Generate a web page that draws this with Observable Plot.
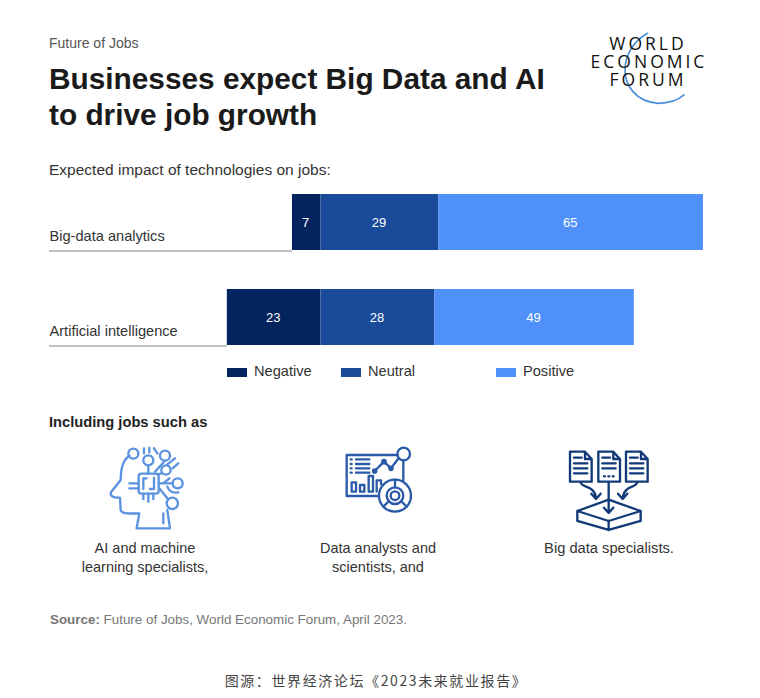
<!DOCTYPE html>
<html><head><meta charset="utf-8">
<script src="https://cdn.jsdelivr.net/npm/d3@7"></script>
<script src="https://cdn.jsdelivr.net/npm/@observablehq/plot@0.6"></script>
<style>
html,body{margin:0;padding:0;background:#fff}
#page{position:relative;width:760px;height:698px;overflow:hidden;font-family:"Liberation Sans",sans-serif;color:#222}
.t{position:absolute;white-space:nowrap;line-height:1}
.c{text-align:center;transform:translateX(-50%)}
.s{position:absolute;height:9px;width:20px;top:368px}
#chart,#art{position:absolute;left:0}
#chart{top:180px}
#art{top:0}
</style></head><body>
<div id="page">
<div class="t" style="left:49px;top:36px;font-size:14px;color:#555">Future of Jobs</div>
<div class="t" style="left:49px;top:61px;font-size:29.8px;font-weight:700;color:#1a1a1a;line-height:36px">Businesses expect Big Data and AI<br>to drive job growth</div>
<div class="t" style="left:49px;top:162px;font-size:15.5px;color:#333">Expected impact of technologies on jobs:</div>
<div id="chart"></div>
<div id="legend"></div>
<div class="t" style="left:49px;top:415px;font-size:14.7px;font-weight:700;color:#222">Including jobs such as</div>
<svg id="art" width="760" height="698" fill="none" stroke-linecap="round" stroke-linejoin="round">
  <!-- logo -->
  <g transform="translate(570,20) scale(.3333)">
    <path d="M232 40C190 65 165 105 165 150C165 195 195 245 265 250C295 250 325 240 342 225" stroke="#4a90d6" stroke-width="5"/>
  </g>
  <g fill="#111" stroke="none" font-family="'Open Sans',sans-serif" font-size="17.5" text-anchor="middle">
    <text x="648" y="49.5" letter-spacing="3">WORLD</text>
    <text x="649" y="67.5" letter-spacing="3">ECONOMIC</text>
    <text x="648" y="85.5" letter-spacing="3">FORUM</text>
  </g>
  <!-- AI head -->
  <g transform="translate(80,435) scale(.3333)" stroke="#5b93e0" stroke-width="7">
    <circle cx="160" cy="56" r="15"/><circle cx="205" cy="76" r="15"/><circle cx="255" cy="62" r="15"/><circle cx="258" cy="105" r="14"/><circle cx="293" cy="145" r="15"/><circle cx="277" cy="205" r="17"/>
    <path d="M148 62C128 75 122 100 122 135L93 172C90 182 95 188 120 188L122 225C125 235 135 237 178 235L170 280H270L262 225"/>
    <rect x="176" y="116" width="60" height="60" rx="8"/>
    <path d="M190 162V130H200M222 128V162H210"/>
    <path d="M205 91V116M192 40V55M208 38V52M222 40L232 55M255 77L225 110M245 115L232 118M285 70L262 88M295 85L278 100M278 145H238M238 160L262 190M148 145H176M148 160H176M205 176V200M190 176V192M220 176V192M262 155C268 170 280 175 295 172M250 235V265M268 130L250 145"/>
  </g>
  <!-- analytics -->
  <g transform="translate(320,435) scale(.3333)" stroke="#2a5aa8" stroke-width="7">
    <path d="M233 60H80V183H175M250 75V135"/>
    <circle cx="251" cy="57" r="19"/>
    <circle cx="225" cy="182" r="48"/><circle cx="225" cy="182" r="25"/><circle cx="225" cy="182" r="13"/>
    <path d="M225 134V157M190 215L207 198M260 215L243 198"/>
    <path d="M164 108L192 80L213 100L236 70"/>
    <circle cx="164" cy="108" r="5"/><circle cx="192" cy="80" r="5"/><circle cx="213" cy="100" r="5"/>
    <path d="M108 73H148M108 87H148M108 100H148M108 113H148M92 73H95M92 87H95M92 100H95M92 113H95"/>
    <rect x="95" y="142" width="13" height="28"/><rect x="120" y="150" width="13" height="20"/><rect x="146" y="123" width="13" height="47"/><path d="M170 170V136H183V148"/>
  </g>
  <!-- big data -->
  <g transform="translate(550,435) scale(.3333)" stroke="#123a78" stroke-width="7">
    <path d="M60 50H105L125 72V140H60Z M105 50V72H125"/>
    <path d="M145 50H190L210 72V140H145Z M190 50V72H210"/>
    <path d="M228 50H273L293 72V140H228Z M273 50V72H293"/>
    <path d="M72 68H95M72 85H112M72 100H112M72 115H112M157 68H180M157 85H197M157 100H197M162 124H165M175 124H178M188 124H191M240 68H263M240 85H280M240 100H280M240 115H280"/>
    <path d="M92 142C95 160 135 150 138 190M124 176L138 192L152 176"/>
    <path d="M262 142C258 160 222 150 218 190M204 176L218 192L232 176"/>
    <path d="M176 142V232M162 218L176 234L190 218"/>
    <path d="M82 228L176 194L272 228L176 258Z M82 228V258L176 285L272 258V228 M176 258V285"/>
  </g>
</svg>
<div class="t c" style="left:145px;top:539px;font-size:14.5px;line-height:19px;color:#333">AI and machine<br>learning specialists,</div>
<div class="t c" style="left:378px;top:539px;font-size:14.5px;line-height:19px;color:#333">Data analysts and<br>scientists, and</div>
<div class="t c" style="left:609px;top:539px;font-size:14.7px;line-height:19px;color:#333">Big data specialists.</div>
<div class="t" style="left:50px;top:613px;font-size:13.4px;color:#777"><b>Source:</b> Future of Jobs, World Economic Forum, April 2023.</div>
<div class="t c" style="left:376px;top:673px;font-size:14px;letter-spacing:1.6px;color:#444;font-family:'Noto Sans CJK SC',sans-serif">图源：世界经济论坛《2023未来就业报告》</div>
</div>
<script>
const technologies = ["Big-data analytics", "Artificial intelligence"];
const impacts = ["Negative", "Neutral", "Positive"];
const negativeValues = [7, 23];
const neutralValues = [29, 28];
const positiveValues = [65, 49];
const impactColors = ["#04245f", "#1a4a9a", "#4f90fb"];
const legendLeft = [227, 341, 496];

const seriesValues = [negativeValues, neutralValues, positiveValues];
// negative shares stack leftward from the shared zero line
const rows = impacts.flatMap((impact, s) => technologies.map((tech, i) => ({
  tech, impact, value: seriesValues[s][i], signed: s === 0 ? -seriesValues[s][i] : seriesValues[s][i]
})));
const leftExtent = -66.7;
const stack = {x: "signed", y: "tech", z: "impact", order: impacts};

const chart = Plot.plot({
  width: 760, height: 180,
  marginLeft: 49, marginRight: 57, marginTop: 0, marginBottom: 0,
  x: {domain: [leftExtent, 94], axis: null},
  y: {domain: technologies, range: [13, 166], paddingInner: 0.406, paddingOuter: 0, axis: null},
  color: {domain: impacts, range: impactColors},
  style: {background: "transparent", fontFamily: "'Liberation Sans',sans-serif", overflow: "visible"},
  marks: [
    Plot.ruleY(technologies.map((tech, i) => ({tech, end: -negativeValues[i]})), {
      y: "tech", x1: leftExtent, x2: "end", dy: 28.5, stroke: "#aaa", strokeWidth: 1.4
    }),
    Plot.barX(rows, Plot.stackX({...stack, fill: "impact"})),
    Plot.text(rows, Plot.stackX({...stack, text: d => String(d.value), fill: "white", fontSize: 13, dx: -1})),
    Plot.text(technologies, {
      y: d => d, text: d => d, frameAnchor: "left", textAnchor: "start", dy: 14,
      fontSize: 14.6, fill: "#333"
    })
  ]
});
document.getElementById("chart").append(chart);

const legend = document.getElementById("legend");
impacts.forEach((name, i) => {
  const s = document.createElement("div");
  s.className = "s"; s.style.left = legendLeft[i] + "px"; s.style.background = impactColors[i];
  const t = document.createElement("div");
  t.className = "t"; t.textContent = name;
  t.style.cssText = `left:${legendLeft[i] + 27}px;top:364px;font-size:14.6px;color:#333`;
  legend.append(s, t);
});
</script>
</body></html>
